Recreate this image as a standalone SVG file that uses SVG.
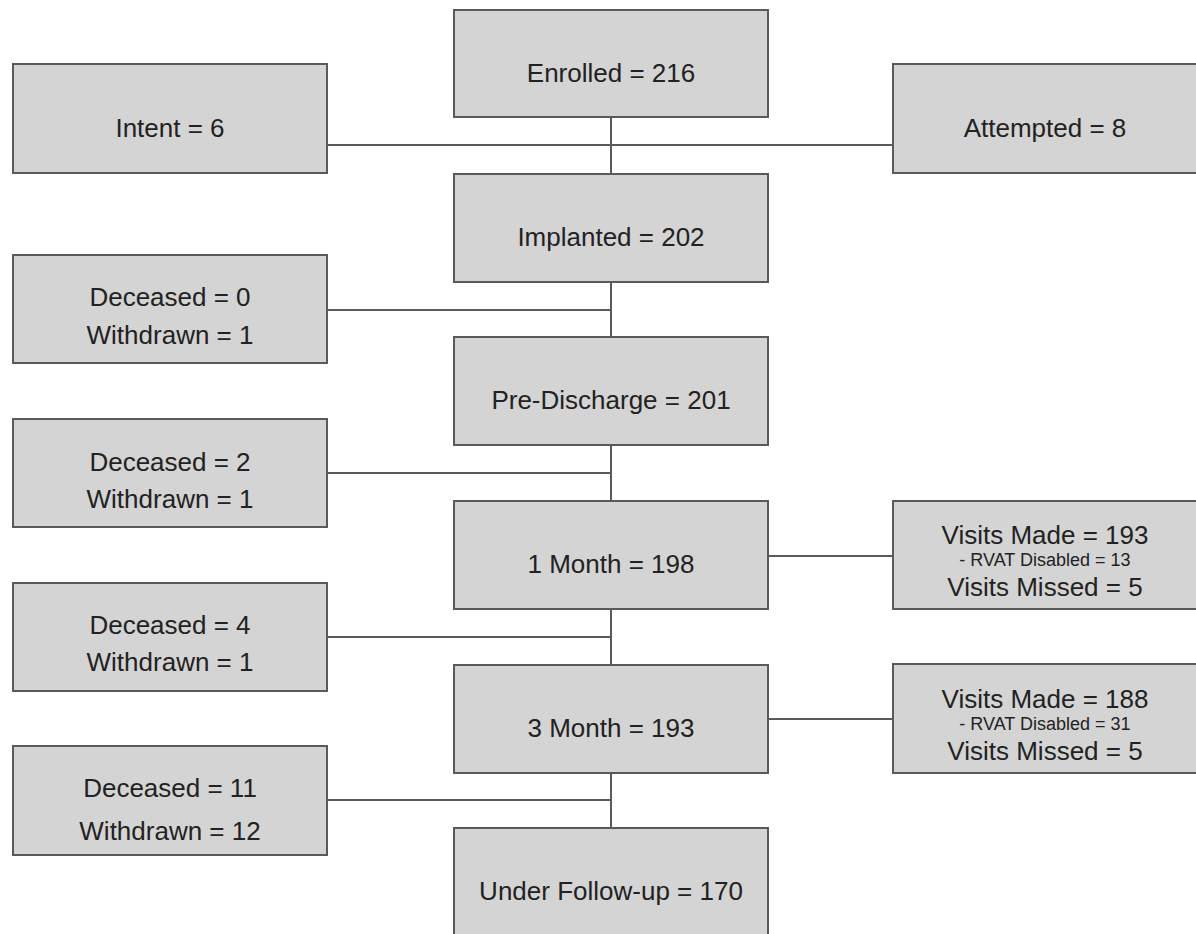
<svg xmlns="http://www.w3.org/2000/svg" width="1196" height="934" viewBox="0 0 1196 934">
<style>
.box{fill:#d4d4d4;stroke:#5a5a5a;stroke-width:2}
.t{font-family:"Liberation Sans",Arial,sans-serif;font-size:26px;fill:#222;text-anchor:middle}
.s{font-family:"Liberation Sans",Arial,sans-serif;font-size:18px;fill:#222;text-anchor:middle}
.c{stroke:#5a5a5a;stroke-width:2;fill:none}
</style>
<rect width="1196" height="934" fill="#fff"/>
<g id="connectors">
<line class="c" x1="327" y1="145" x2="893" y2="145"/>
<line class="c" x1="611" y1="117" x2="611" y2="174"/>
<line class="c" x1="611" y1="282" x2="611" y2="337"/>
<line class="c" x1="611" y1="445" x2="611" y2="501"/>
<line class="c" x1="611" y1="609" x2="611" y2="665"/>
<line class="c" x1="611" y1="773" x2="611" y2="828"/>
<line class="c" x1="327" y1="310" x2="611" y2="310"/>
<line class="c" x1="327" y1="473" x2="611" y2="473"/>
<line class="c" x1="327" y1="637" x2="611" y2="637"/>
<line class="c" x1="327" y1="800" x2="611" y2="800"/>
<line class="c" x1="768" y1="556" x2="893" y2="556"/>
<line class="c" x1="768" y1="719" x2="893" y2="719"/>
</g>
<g id="enrolled"><rect class="box" x="454" y="10" width="314" height="107"/><text class="t" x="611" y="82">Enrolled = 216</text></g>
<g id="intent"><rect class="box" x="13" y="64" width="314" height="109"/><text class="t" x="170" y="137">Intent = 6</text></g>
<g id="attempted"><rect class="box" x="893" y="64" width="310" height="109"/><text class="t" x="1045" y="137">Attempted = 8</text></g>
<g id="implanted"><rect class="box" x="454" y="174" width="314" height="108"/><text class="t" x="611" y="246">Implanted = 202</text></g>
<g id="loss1"><rect class="box" x="13" y="255" width="314" height="108"/><text class="t" x="170" y="306">Deceased = 0</text><text class="t" x="170" y="344">Withdrawn = 1</text></g>
<g id="predischarge"><rect class="box" x="454" y="337" width="314" height="108"/><text class="t" x="611" y="409">Pre-Discharge = 201</text></g>
<g id="loss2"><rect class="box" x="13" y="419" width="314" height="108"/><text class="t" x="170" y="471">Deceased = 2</text><text class="t" x="170" y="508">Withdrawn = 1</text></g>
<g id="month1"><rect class="box" x="454" y="501" width="314" height="108"/><text class="t" x="611" y="573">1 Month = 198</text></g>
<g id="visits1"><rect class="box" x="893" y="501" width="310" height="108"/><text class="t" x="1045" y="544">Visits Made = 193</text><text class="s" x="1045" y="566">- RVAT Disabled = 13</text><text class="t" x="1045" y="596">Visits Missed = 5</text></g>
<g id="loss3"><rect class="box" x="13" y="583" width="314" height="108"/><text class="t" x="170" y="634">Deceased = 4</text><text class="t" x="170" y="671">Withdrawn = 1</text></g>
<g id="month3"><rect class="box" x="454" y="665" width="314" height="108"/><text class="t" x="611" y="737">3 Month = 193</text></g>
<g id="visits2"><rect class="box" x="893" y="664" width="310" height="109"/><text class="t" x="1045" y="708">Visits Made = 188</text><text class="s" x="1045" y="730">- RVAT Disabled = 31</text><text class="t" x="1045" y="760">Visits Missed = 5</text></g>
<g id="loss4"><rect class="box" x="13" y="746" width="314" height="109"/><text class="t" x="170" y="797">Deceased = 11</text><text class="t" x="170" y="840">Withdrawn = 12</text></g>
<g id="followup"><rect class="box" x="454" y="828" width="314" height="110"/><text class="t" x="611" y="900">Under Follow-up = 170</text></g>
</svg>
